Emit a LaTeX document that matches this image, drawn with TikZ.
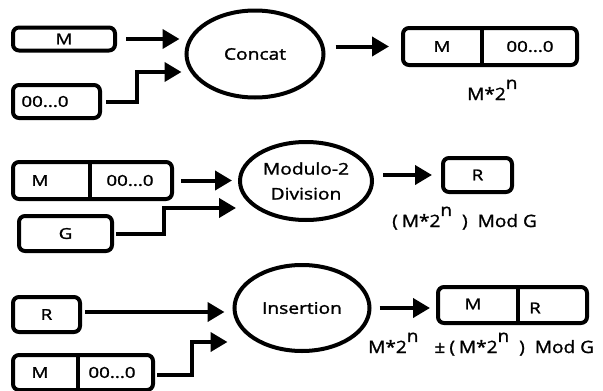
\documentclass[tikz,border=0pt]{standalone}
\usepackage{fontspec}
\setmainfont{Open Sans}
\newfontfamily\boxfont{Open Sans}[FakeStretch=1.25,FakeBold=1.6]
\newfontfamily\procfont{Open Sans}[FakeStretch=1.2,FakeBold=1.6]
\newfontfamily\lblfont{Open Sans}[FakeStretch=1.12,FakeBold=1.4]
\usetikzlibrary{arrows.meta,shapes.geometric}
\newcommand{\pw}{\raisebox{0.65em}{n}}
\begin{document}
\begin{tikzpicture}[x=1pt,y=-1pt,
  box/.style={draw,line width=4pt,rounded corners=6pt,inner sep=0pt,font=\boxfont\fontsize{15}{18}\selectfont},
  proc/.style={draw,ellipse,line width=4pt,inner sep=0pt,align=center,font=\procfont\fontsize{16}{25}\selectfont},
  txt/.style={font=\boxfont\fontsize{15}{18}\selectfont,inner sep=0pt},
  lbl/.style={font=\lblfont\fontsize{17}{20}\selectfont,inner sep=0pt,anchor=base west},
  sep/.style={line width=4pt},
  arr/.style={line width=4pt,-{Triangle[length=17pt,width=19pt]}}
]
\useasboundingbox (0,0) rectangle (603,391);

% ---- Concat stage ----
\node[box,minimum width=102pt,minimum height=23pt] (m1) at (64,39) {M};
\node[box,minimum width=87pt,minimum height=33pt] (z1) at (56.5,101.5) {};
\node[txt] (z1t) at (45,101.5) {00...0};
\node[proc,minimum width=137pt,minimum height=87pt] (concat) at (255,54) {Concat};
\node[box,minimum width=174pt,minimum height=37pt] (o1) at (490,46.5) {};
\coordinate (d1) at (482,0);
\draw[sep] (d1 |- o1.north) -- (d1 |- o1.south);
\node[txt] (o1a) at (442,46.5) {M};
\node[txt] (o1b) at (530,46.5) {00...0};
\node[lbl] (l1) at (467,100) {M*2\pw};

\draw[arr,shorten <=9pt,shorten >=5pt] (m1.east) -- (m1.east -| concat.west);
\draw[arr] ([xshift=4pt]z1.east) -- ++(31,0) |- ([xshift=-3pt,yshift=-18pt]concat.west);
\draw[arr,shorten <=10pt,shorten >=12pt] (concat.east |- o1.west) -- (o1.west);

% ---- Modulo-2 division stage ----
\node[box,minimum width=159pt,minimum height=37pt] (in2) at (92.5,180.5) {};
\coordinate (d2) at (90,0);
\draw[sep] (d2 |- in2.north) -- (d2 |- in2.south);
\node[txt] (in2a) at (40,180.5) {M};
\node[txt] (in2b) at (130,180.5) {00...0};
\node[box,minimum width=93pt,minimum height=35pt] (g2) at (65.5,233.5) {G};
\node[proc,minimum width=132pt,minimum height=78pt] (mod) at (306,181) {Modulo-2\\Division};
\node[box,minimum width=69pt,minimum height=34pt] (r2) at (477.5,175) {R};
\node[lbl] (l2) at (392,227) {(\hspace{4pt}M*2\pw\hspace{10pt})\hspace{10pt}Mod G};

\draw[arr,shorten <=7pt,shorten >=6pt] (in2.east) -- (in2.east -| mod.west);
\draw[arr] ([xshift=2pt]g2.east) -- ++(48,0) |- ([xshift=-2pt,yshift=-27pt]mod.west);
\draw[arr,shorten <=9pt,shorten >=9pt] (mod.east |- r2.west) -- (r2.west);

% ---- Insertion stage ----
\node[box,minimum width=67pt,minimum height=35pt] (r3) at (46.5,314.5) {R};
\node[box,minimum width=140pt,minimum height=35pt] (in3) at (83,372.5) {};
\coordinate (d3) at (78,0);
\draw[sep] (d3 |- in3.north) -- (d3 |- in3.south);
\node[txt] (in3a) at (40,372.5) {M};
\node[txt] (in3b) at (112,372.5) {00...0};
\node[proc,minimum width=135pt,minimum height=86pt] (ins) at (302,308) {Insertion};
\node[box,minimum width=149pt,minimum height=36pt] (o3) at (512.5,305) {};
\coordinate (d4) at (518,0);
\draw[sep] (d4 |- o3.north) -- (d4 |- o3.south);
\node[txt] (o3a) at (473,304) {M};
\node[txt] (o3b) at (535,308) {R};
\node[lbl] (l3) at (368,353) {M*2\pw\hspace{16pt}±\hspace{4pt}(\hspace{4pt}M*2\pw\hspace{10pt})\hspace{10pt}Mod G};

\draw[arr,shorten <=3pt,shorten >=8pt] (r3.east |- 0,312) -- (ins.west |- 0,312);
\draw[arr] ([xshift=2pt,yshift=-2.5pt]in3.east) -- ++(35,0) |- ([xshift=-5pt,yshift=-34pt]ins.west);
\draw[arr,shorten <=8pt,shorten >=6pt] (ins.east) -- (ins.east -| o3.west);
\end{tikzpicture}
\end{document}
